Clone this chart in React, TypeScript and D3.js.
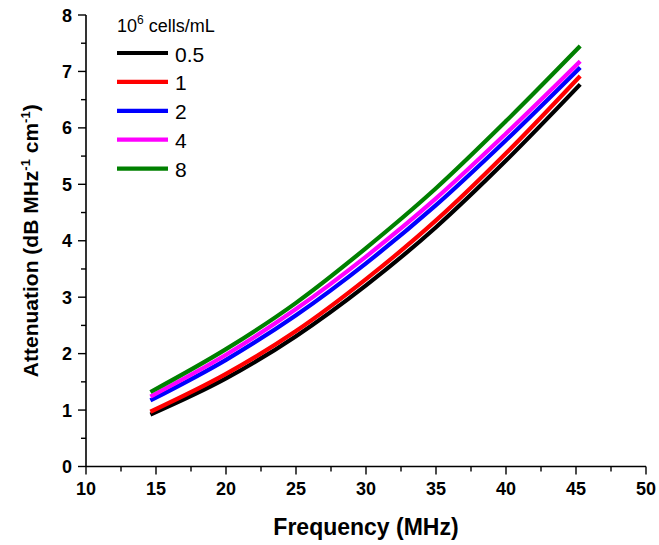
import React from "react";
import * as d3 from "d3";

const frequencies = [14.6, 20, 25, 30, 35, 40, 45.3];
const seriesNames = ["0.5", "1", "2", "4", "8"];
const seriesColors = ["#000000", "#ff0000", "#0000ff", "#ff00ff", "#008000"];
const black05 = [0.92, 1.56, 2.31, 3.21, 4.24, 5.42, 6.77];
const red1 = [0.97, 1.64, 2.4, 3.32, 4.36, 5.55, 6.92];
const blue2 = [1.17, 1.89, 2.68, 3.6, 4.63, 5.78, 7.07];
const magenta4 = [1.24, 1.98, 2.79, 3.72, 4.75, 5.9, 7.18];
const green8 = [1.32, 2.08, 2.9, 3.87, 4.93, 6.12, 7.45];
const seriesValues = [black05, red1, blue2, magenta4, green8];
const xTicks = [10, 15, 20, 25, 30, 35, 40, 45, 50];
const yTicks = [0, 1, 2, 3, 4, 5, 6, 7, 8];

const W = 659;
const H = 545;
const left = 86;
const right = 646;
const top = 15;
const bottom = 466.5;
const FONT = "'Liberation Sans', Arial, sans-serif";

export default function App() {
  const x = d3.scaleLinear().domain([10, 50]).range([left, right]);
  const y = d3.scaleLinear().domain([0, 8]).range([bottom, top]);
  const line = d3
    .line<[number, number]>()
    .x((d) => x(d[0]))
    .y((d) => y(d[1]))
    .curve(d3.curveMonotoneX);

  const xMinor = d3.range(10, 50.01, 2.5);
  const yMinor = d3.range(0, 8.01, 0.5);

  const legendX0 = 117;
  const legendX1 = 168;
  const legendY0 = 53;
  const legendStep = 28.9;

  return (
    <svg
      width={W}
      height={H}
      style={{ position: "absolute", left: 0, top: 0, background: "#fff" }}
      fontFamily={FONT}
    >
      <rect x={0} y={0} width={W} height={H} fill="#fff" />
      {seriesValues.map((vals, i) => (
        <path
          key={i}
          d={line(frequencies.map((f, j) => [f, vals[j]] as [number, number])) || ""}
          fill="none"
          stroke={seriesColors[i]}
          strokeWidth={4.2}
        />
      ))}
      <line x1={left} x2={right} y1={bottom} y2={bottom} stroke="#000" strokeWidth={1.6} />
      <line x1={left} x2={left} y1={top} y2={bottom} stroke="#000" strokeWidth={1.6} />
      {xMinor.map((t) => (
        <line
          key={"xm" + t}
          x1={x(t)}
          x2={x(t)}
          y1={bottom}
          y2={bottom + (t % 5 === 0 ? 8 : 5)}
          stroke="#000"
          strokeWidth={1.4}
        />
      ))}
      {yMinor.map((t) => (
        <line
          key={"ym" + t}
          x1={left}
          x2={left - (t % 1 === 0 ? 8 : 5)}
          y1={y(t)}
          y2={y(t)}
          stroke="#000"
          strokeWidth={1.4}
        />
      ))}
      {xTicks.map((t) => (
        <text
          key={"xt" + t}
          x={x(t)}
          y={495}
          textAnchor="middle"
          fontSize={18}
          fontWeight="bold"
        >
          {t}
        </text>
      ))}
      {yTicks.map((t) => (
        <text
          key={"yt" + t}
          x={left - 14}
          y={y(t) + 6.5}
          textAnchor="end"
          fontSize={18}
          fontWeight="bold"
        >
          {t}
        </text>
      ))}
      <text x={(left + right) / 2} y={535} textAnchor="middle" fontSize={23} fontWeight="bold">
        Frequency (MHz)
      </text>
      <text
        transform={`translate(38, ${(top + bottom) / 2}) rotate(-90)`}
        textAnchor="middle"
        fontSize={21}
        fontWeight="bold"
      >
        Attenuation (dB MHz
        <tspan fontSize={13} dy={-8}>-1</tspan>
        <tspan dy={8}> cm</tspan>
        <tspan fontSize={13} dy={-8}>-1</tspan>
        <tspan dy={8}>)</tspan>
      </text>
      <text x={legendX0} y={32} fontSize={18}>
        10
        <tspan fontSize={12} dy={-8}>6</tspan>
        <tspan dy={8}> cells/mL</tspan>
      </text>
      {seriesNames.map((n, i) => (
        <g key={"lg" + n}>
          <line
            x1={legendX0}
            x2={legendX1}
            y1={legendY0 + i * legendStep}
            y2={legendY0 + i * legendStep}
            stroke={seriesColors[i]}
            strokeWidth={4.2}
          />
          <text x={175} y={legendY0 + i * legendStep + 8.5} fontSize={21}>
            {n}
          </text>
        </g>
      ))}
    </svg>
  );
}
